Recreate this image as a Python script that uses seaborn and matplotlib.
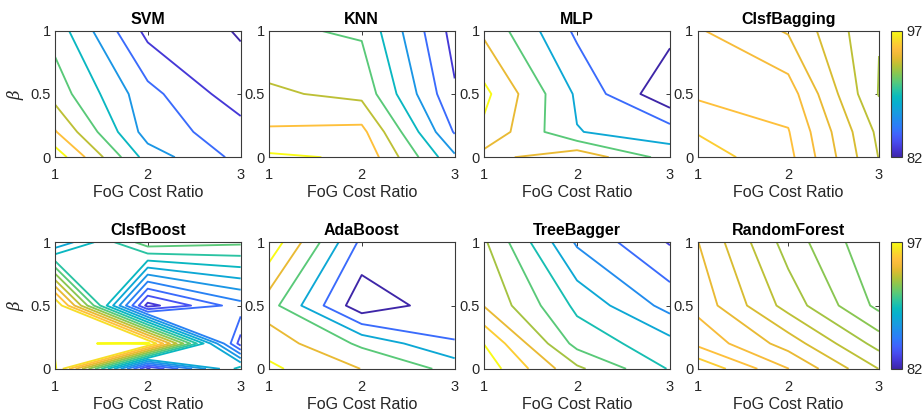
import numpy as np
import matplotlib
matplotlib.use("Agg")
import matplotlib.pyplot as plt
from matplotlib.colors import LinearSegmentedColormap, Normalize
from matplotlib.cm import ScalarMappable
import seaborn as sns

# ---------------- data ----------------
cost_ratio = [1, 2, 3]
beta = [0, 0.2, 0.5, 1]
titles = ["SVM", "KNN", "MLP", "ClsfBagging",
          "ClsfBoost", "AdaBoost", "TreeBagger", "RandomForest"]

# rows: beta = 0, 0.2, 0.5, 1 ; columns: FoG cost ratio = 1, 2, 3
svm = [[98.34, 88.08, 84.38], [95.20, 86.08, 83.88], [92.20, 85.66, 81.78], [90.20, 82.40, 80.84]]
knn = [[97.34, 96.74, 87.36], [95.28, 95.60, 84.80], [93.34, 92.44, 83.26], [91.36, 90.72, 82.20]]
mlp = [[92.89, 96.25, 89.65], [96.34, 88.12, 86.47], [97.81, 87.52, 79.42], [93.40, 84.37, 82.99]]
clsf_bagging = [[95.76, 95.15, 92.98], [95.47, 95.03, 92.87], [94.91, 94.75, 92.47], [94.55, 93.95, 92.52]]
clsf_boost = [[97.25, 82.80, 89.50], [96.75, 97.30, 83.50], [97.10, 82.60, 85.60], [87.10, 91.60, 91.20]]
ada_boost = [[97.60, 93.94, 90.07], [95.74, 90.40, 85.12], [92.38, 79.87, 83.97], [99.25, 84.28, 84.10]]
tree_bagger = [[97.96, 92.82, 89.37], [96.97, 90.46, 88.51], [93.93, 89.13, 85.95], [92.73, 86.28, 83.38]]
random_forest = [[95.95, 94.51, 92.99], [94.88, 93.78, 92.30], [94.34, 92.80, 91.36], [94.02, 92.28, 91.05]]

levels_svm = [81, 83, 85, 87, 89, 91, 93, 95, 97]
levels_knn = [83, 85, 87, 89, 91, 93, 95, 97]
levels_mlp = [82, 85, 88, 91, 94, 97]
levels_bagging = [92.5, 93, 93.5, 94, 94.5, 95, 95.5]
levels_boost = [83, 84, 85, 86, 87, 88, 89, 90, 91, 92, 93, 94, 95, 96, 97]
levels_ada = [82, 85, 88, 91, 94, 97]
levels_tree = [83.5, 85, 86.5, 88, 89.5, 91, 92.5, 94, 95.5, 97]
levels_rf = [91.5, 92, 92.5, 93, 93.5, 94, 94.5, 95, 95.5]

color_limits = [82, 97]

panels = [svm, knn, mlp, clsf_bagging, clsf_boost, ada_boost, tree_bagger, random_forest]
panel_levels = [levels_svm, levels_knn, levels_mlp, levels_bagging,
                levels_boost, levels_ada, levels_tree, levels_rf]

# ---------------- style ----------------
sns.set_theme(style="white")
plt.rcParams["font.family"] = ["Liberation Sans", "DejaVu Sans"]
plt.rcParams["mathtext.fontset"] = "dejavuserif"

parula_anchors = [
    (0.00, (0.2422, 0.1504, 0.6603)),
    (0.06, (0.2700, 0.2100, 0.8300)),
    (0.12, (0.2810, 0.3000, 0.9400)),
    (0.18, (0.2500, 0.3900, 0.9900)),
    (0.24, (0.1800, 0.4800, 0.9800)),
    (0.30, (0.1300, 0.5500, 0.9300)),
    (0.36, (0.0900, 0.6200, 0.8700)),
    (0.42, (0.0300, 0.6800, 0.8200)),
    (0.48, (0.0400, 0.7300, 0.7400)),
    (0.54, (0.1800, 0.7700, 0.6200)),
    (0.60, (0.3500, 0.7900, 0.4700)),
    (0.66, (0.5200, 0.7800, 0.3300)),
    (0.72, (0.7000, 0.7600, 0.2200)),
    (0.78, (0.8800, 0.7300, 0.1900)),
    (0.82, (0.9500, 0.7300, 0.2200)),
    (0.86, (0.9950, 0.7450, 0.2400)),
    (0.90, (0.9900, 0.8000, 0.2000)),
    (0.95, (0.9600, 0.9000, 0.1300)),
    (1.00, (0.9769, 0.9839, 0.0805)),
]
parula = LinearSegmentedColormap.from_list("parula", parula_anchors, N=256)
norm = Normalize(vmin=color_limits[0], vmax=color_limits[1])

W, H = 923, 416
fig = plt.figure(figsize=(W / 100, H / 100), dpi=100)

col_left = [54.7, 268.7, 484.0, 697.5]
col_w = [186.0, 186.0, 186.0, 181.5]
row_top = [30.7, 242.3]
row_h = 126.5

def rect(l, t, w, h):
    return [l / W, 1 - (t + h) / H, w / W, h / H]

edge = "#3a3a3a"
X, Y = np.meshgrid(cost_ratio, beta)

for idx, (z, lev, title) in enumerate(zip(panels, panel_levels, titles)):
    r, c = divmod(idx, 4)
    ax = fig.add_axes(rect(col_left[c], row_top[r], col_w[c], row_h))
    ax.contour(X, Y, np.array(z), levels=lev, cmap=parula, norm=norm, linewidths=1.35)
    ax.set_xlim(1, 3)
    ax.set_ylim(0, 1)
    ax.set_xticks([1, 2, 3])
    ax.set_xticklabels(["1", "2", "3"])
    ax.set_yticks([0, 0.5, 1])
    ax.set_yticklabels(["0", "0.5", "1"])
    ax.tick_params(direction="in", length=3, width=0.7, top=True, right=True,
                   labelsize=10.5, colors="#262626", color=edge)
    ax.tick_params(axis="x", pad=8)
    ax.tick_params(axis="y", pad=3)
    for s in ax.spines.values():
        s.set_color(edge)
        s.set_linewidth(0.8)
    ax.set_title(title, fontsize=11.5, fontweight="bold", pad=5, color="black")
    ax.set_xlabel("FoG Cost Ratio", fontsize=11.5, color="#262626", labelpad=2)
    if c == 0:
        ax.set_ylabel(r"$\beta$", fontsize=12, color="#262626", labelpad=3)

for r in range(2):
    cax = fig.add_axes(rect(890.7, row_top[r], 11.3, row_h))
    cb = fig.colorbar(ScalarMappable(norm=norm, cmap=parula), cax=cax, ticks=color_limits)
    cb.ax.set_yticklabels([str(v) for v in color_limits])
    cb.ax.tick_params(labelsize=10.5, colors="#262626", length=0, pad=3)
    cb.outline.set_edgecolor(edge)
    cb.outline.set_linewidth(0.8)

fig.savefig("out.png", dpi=100, facecolor="white")
